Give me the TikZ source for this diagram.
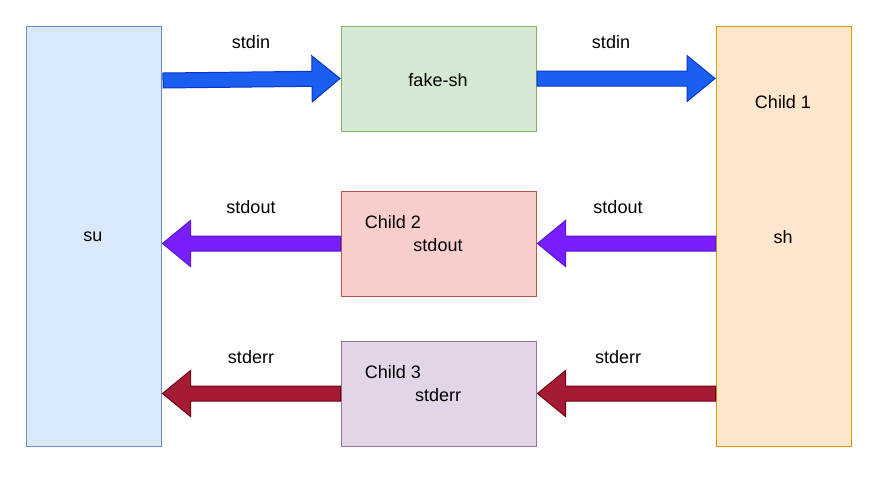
\documentclass[tikz,border=0pt]{standalone}
\usepackage{fontspec}
\setmainfont{Liberation Sans}
\usetikzlibrary{calc}
\definecolor{suF}{HTML}{DAE8FC}\definecolor{suD}{HTML}{6C8EBF}
\definecolor{gF}{HTML}{D5E8D4}\definecolor{gD}{HTML}{82B366}
\definecolor{rF}{HTML}{F8CECC}\definecolor{rD}{HTML}{B85450}
\definecolor{pF}{HTML}{E1D5E7}\definecolor{pD}{HTML}{9673A6}
\definecolor{oF}{HTML}{FFE6CC}\definecolor{oD}{HTML}{D79B00}
\definecolor{blF}{HTML}{1A5FF0}\definecolor{blD}{HTML}{0A35C8}
\definecolor{viF}{HTML}{781EFF}\definecolor{viD}{HTML}{5418D6}
\definecolor{reF}{HTML}{A51A35}\definecolor{reD}{HTML}{750010}
\newcommand{\flexarr}[4]{%
  \begin{scope}
  \coordinate (fh) at ($(#2)!28pt!(#1)$);
  \filldraw[fill=#3,draw=#4,line width=1pt,line join=miter]
    ($(#1)!7.5pt!90:(#2)$) -- ($(fh)!7.5pt!90:(#2)$) -- ($(fh)!23pt!90:(#2)$)
    -- (#2) -- ($(fh)!23pt!-90:(#2)$) -- ($(fh)!7.5pt!-90:(#2)$)
    -- ($(#1)!7.5pt!-90:(#2)$) -- cycle;
  \end{scope}}
\begin{document}
\begin{tikzpicture}[x=1pt,y=-1pt,
  box/.style={draw,line width=1pt,minimum width=#1,inner sep=0pt},
  txt/.style={font=\fontsize{18}{21}\selectfont,inner sep=0pt}]
\useasboundingbox (0,0) rectangle (888,483);
\node[box=135pt,minimum height=420pt,fill=suF,draw=suD] (su) at (93.5,236) {};
\node[box=195pt,minimum height=105pt,fill=gF,draw=gD] (fake) at (438.5,78.5) {};
\node[box=195pt,minimum height=105pt,fill=rF,draw=rD] (c2) at (438.5,243.5) {};
\node[box=195pt,minimum height=105pt,fill=pF,draw=pD] (c3) at (438.5,393.5) {};
\node[box=135pt,minimum height=420pt,fill=oF,draw=oD] (c1) at (783.5,236) {};
\node[txt] (tsu) at (93,237) {su};
\node[txt] (tfake) at (438,80) {fake-sh};
\node[txt] (tc2a) at (393,222) {Child 2};
\node[txt] (tc2b) at (438,245) {stdout};
\node[txt] (tc3a) at (393,372) {Child 3};
\node[txt] (tc3b) at (438,395) {stderr};
\node[txt] (tc1a) at (783,102) {Child 1};
\node[txt] (tc1b) at (783,237) {sh};
\node[txt] (l1) at (251,42) {stdin};
\node[txt] (l2) at (611,42) {stdin};
\node[txt] (l3) at (251,207) {stdout};
\node[txt] (l4) at (618,207) {stdout};
\node[txt] (l5) at (251,357) {stderr};
\node[txt] (l6) at (618,357) {stderr};
\coordinate (a1s) at (163,80.5);
\coordinate (a1e) at ([xshift=-0.5pt]fake.west);
\flexarr{a1s}{a1e}{blF}{blD}
\coordinate (a2s) at ([xshift=0.5pt]fake.east);
\coordinate (a2e) at ([xshift=-0.5pt]c1.west |- fake.east);
\flexarr{a2s}{a2e}{blF}{blD}
\coordinate (a3s) at (c2.west);
\coordinate (a3e) at ([xshift=1pt]su.east |- c2.west);
\flexarr{a3s}{a3e}{viF}{viD}
\coordinate (a4s) at (c1.west |- c2.east);
\coordinate (a4e) at ([xshift=1pt]c2.east);
\flexarr{a4s}{a4e}{viF}{viD}
\coordinate (a5s) at (c3.west);
\coordinate (a5e) at ([xshift=1pt]su.east |- c3.west);
\flexarr{a5s}{a5e}{reF}{reD}
\coordinate (a6s) at (c1.west |- c3.east);
\coordinate (a6e) at ([xshift=1pt]c3.east);
\flexarr{a6s}{a6e}{reF}{reD}
\end{tikzpicture}
\end{document}
